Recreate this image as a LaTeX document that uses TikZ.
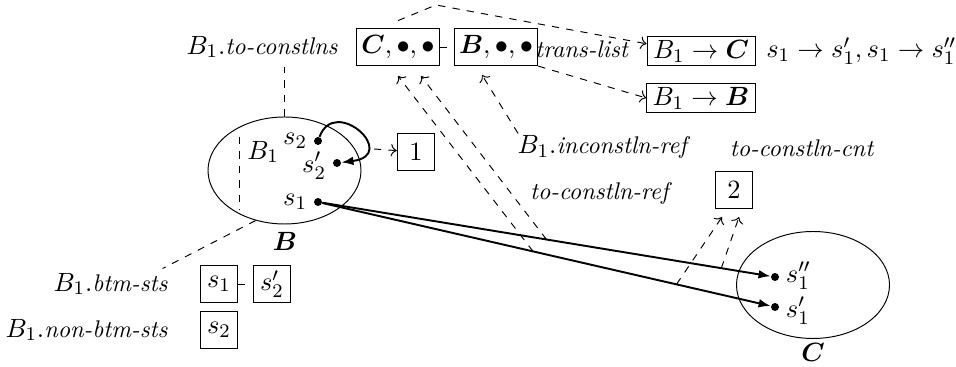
\documentclass[tikz,border=0pt,11pt]{standalone}
\usepackage{amsmath,bm}
\usetikzlibrary{shapes.geometric,arrows.meta}
\newcommand{\fld}[1]{{\fontsize{10pt}{12pt}\selectfont\textit{#1}}}

\begin{document}
\begin{tikzpicture}[x=0.415pt,y=-0.415pt,
    box/.style={draw,rectangle,inner sep=2pt,minimum size=15.5pt},
    tbox/.style={draw,rectangle,inner xsep=2.5pt,inner ysep=1.5pt},
    set/.style={draw,ellipse,minimum width=63.5pt,minimum height=44.4pt},
    st/.style={circle,fill,inner sep=0pt,minimum size=3.3pt},
    ptr/.style={->,dashed},
    trans/.style={-{Latex[length=5pt,width=3.6pt]},thick},
    every label/.style={inner sep=0.5pt}]
    \useasboundingbox (0,0) rectangle (956,367);
    % constellation list
    \node[box] (cl) at (398,47) {$\bm{C},\bullet,\bullet$};
    \node[box] (bl) at (496,47) {$\bm{B},\bullet,\bullet$};
    \node[anchor=east] (tocl) at (347,47) {$B_1$.\fld{to-constlns}};
    \node (trl) at (582,49) {\fld{trans-list}};
    \node[tbox] (tc) at (701,51) {$B_1\to\bm{C}$};
    \node[anchor=west] (tcs) at (757,51) {$s_1\to s_1', s_1\to s_1''$};
    \node[tbox] (tb) at (701,98) {$B_1\to\bm{B}$};
    % the two sets
    \node[set] (B) at (284.5,170.5) {};
    \node (Bl) at (285,241) {$\bm{B}$};
    \node (B1) at (263,152) {$B_1$};
    \draw[dashed] (239,137) -- (239,210);
    \node[st,label={[label distance=2pt]left:$s_2$}] (s2) at (318,141) {};
    \node[st,label={[label distance=2pt,yshift=-1pt]left:$s_2'$}] (s2p) at (337,163) {};
    \node[st,label={[label distance=2pt]left:$s_1$}] (s1) at (318,202) {};
    \node[set] (C) at (813,285) {};
    \node (Cl) at (813,352) {$\bm{C}$};
    \node[st,label={[label distance=2pt,yshift=0.5pt]right:$s_1''$}] (s1pp) at (775,277) {};
    \node[st,label={[label distance=2pt,yshift=-1.5pt]right:$s_1'$}] (s1p) at (775,307) {};
    % transitions
    \draw[trans] (s1) -- (s1pp) coordinate[pos=.5] (r2) coordinate[pos=.89] (n2);
    \draw[trans] (s1) -- (s1p) coordinate[pos=.47] (r1) coordinate[pos=.79] (n1);
    \draw[trans] (s2) .. controls (335,95) and (400,155) .. (s2p);
    \node[box] (one) at (416,152) {$1$};
    \coordinate (lp) at (374,149);
    \draw[ptr] (lp) -- (one);
    \node[box] (two) at (734,190) {$2$};
    \node (cnt) at (802,148) {\fld{to-constln-cnt}};
    \node (ref) at (601,193) {\fld{to-constln-ref}};
    \node (inref) at (604,147) {$B_1$.\fld{inconstln-ref}};
    % pointers
    \coordinate (cd1) at (398,76);
    \coordinate (cd2) at (421,76);
    \coordinate (bd) at (482,75);
    \coordinate (tw1) at (722,217);
    \coordinate (tw2) at (739,217);
    \coordinate (tp) at (436,5);
    \draw[ptr] (r1) -- (cd1);
    \draw[ptr] (r2) -- (cd2);
    \draw[ptr] (n1) -- (tw1);
    \draw[ptr] (n2) -- (tw2);
    \draw[ptr] ([xshift=4pt,yshift=-3pt]inref.north west) -- (bd);
    \draw[ptr] ([yshift=3pt]cl.north) -- (tp) -- ([yshift=3pt]tc.west);
    \draw[ptr] (bl.south east) -- (tb.west);
    \draw[dashed] (cl) -- (bl);
    \draw[dashed] (B.north) -- (B.north |- tocl.south);
    % bottom states
    \node[anchor=east] (btm) at (177,284) {$B_1$.\fld{btm-sts}};
    \node[anchor=east] (nbtm) at (177,330) {$B_1$.\fld{non-btm-sts}};
    \node[box] (bs1) at (219,284) {$s_1$};
    \node[box] (bs2) at (272,284) {$s_2'$};
    \node[box] (ns2) at (219,330) {$s_2$};
    \draw[dashed] (bs1) -- (bs2);
    \draw[dashed] (B.240) -- ([xshift=-6pt,yshift=-2pt]btm.north east);
\end{tikzpicture}
\end{document}
